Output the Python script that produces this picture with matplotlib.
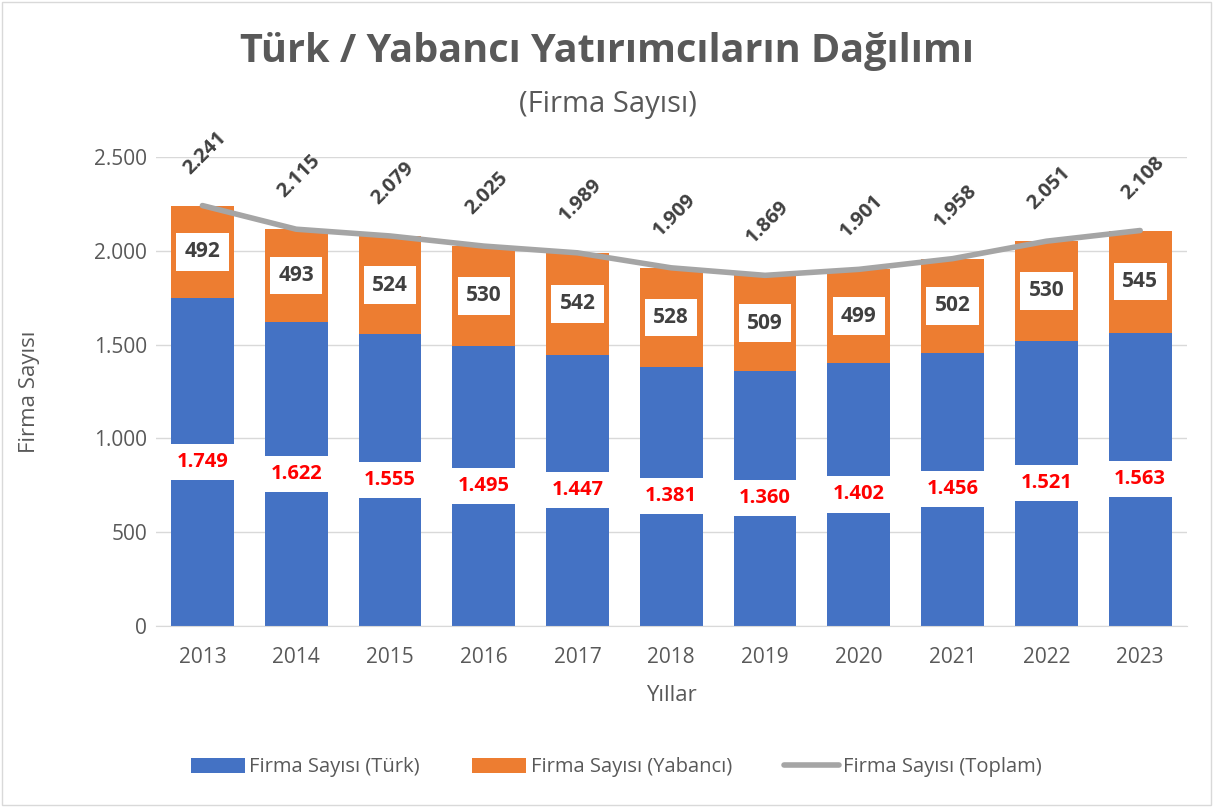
import matplotlib.pyplot as plt
from matplotlib.ticker import FuncFormatter, MultipleLocator
from matplotlib.patches import Rectangle
import numpy as np

plt.rcParams['font.family'] = ['Open Sans', 'DejaVu Sans']

years = ['2013', '2014', '2015', '2016', '2017', '2018', '2019', '2020', '2021', '2022', '2023']
turk = [1749, 1622, 1555, 1495, 1447, 1381, 1360, 1402, 1456, 1521, 1563]
yabanci = [492, 493, 524, 530, 542, 528, 509, 499, 502, 530, 545]
toplam = [2241, 2115, 2079, 2025, 1989, 1909, 1869, 1901, 1958, 2051, 2108]

blue = '#4472C4'
orange = '#ED7D31'
grey = '#A5A5A5'
txt = '#595959'


def tr_num(v):
    return f'{int(v):,}'.replace(',', '.')


fig = plt.figure(figsize=(12.15, 8.07), dpi=100)
ax = fig.add_axes([0.128, 0.2243, 0.849, 0.5812])

x = np.arange(len(years))
w = 0.67
b1 = ax.bar(x, turk, w, color=blue, label='Firma Sayısı (Türk)', zorder=2)
b2 = ax.bar(x, yabanci, w, bottom=turk, color=orange, label='Firma Sayısı (Yabancı)', zorder=2)
ln, = ax.plot(x, toplam, color=grey, lw=4, solid_capstyle='round', label='Firma Sayısı (Toplam)', zorder=3)

for i in range(len(years)):
    ax.text(x[i], turk[i] / 2, tr_num(turk[i]), ha='center', va='center',
            color='#FF0000', fontsize=14.5, fontweight='bold', zorder=4,
            bbox=dict(boxstyle='square,pad=0.4', fc='white', ec='none'))
    ax.text(x[i], turk[i] + yabanci[i] / 2, tr_num(yabanci[i]), ha='center', va='center',
            color='#404040', fontsize=15, fontweight='bold', zorder=4,
            bbox=dict(boxstyle='square,pad=0.4', fc='white', ec='none'))
    ax.annotate(tr_num(toplam[i]), (x[i], toplam[i]), xytext=(2, 38), textcoords='offset points',
                ha='center', va='center', rotation=45, color='#404040',
                fontsize=14.5, fontweight='bold', zorder=4, annotation_clip=False)

ax.set_xlim(-0.5, len(years) - 0.5)
ax.set_ylim(0, 2500)
ax.yaxis.set_major_locator(MultipleLocator(500))
ax.yaxis.set_major_formatter(FuncFormatter(lambda v, p: tr_num(v)))
ax.set_xticks(x)
ax.set_xticklabels(years)
ax.grid(axis='y', color='#D9D9D9', lw=1, zorder=0)
for s in ['top', 'right', 'left']:
    ax.spines[s].set_visible(False)
ax.spines['bottom'].set_color('#D9D9D9')
ax.tick_params(length=0, colors=txt, labelsize=15)
ax.tick_params(axis='x', pad=15)
ax.tick_params(axis='y', pad=6)
ax.set_ylabel('Firma Sayısı', color=txt, fontsize=16, va='center')
ax.set_xlabel('Yıllar', color=txt, fontsize=16, va='center')
ax.yaxis.set_label_coords(-0.122, 0.5)
ax.xaxis.set_label_coords(0.5, -0.148)

fig.text(0.5, 0.936, 'Türk / Yabancı Yatırımcıların Dağılımı', ha='center', va='center',
         fontsize=28.5, fontweight='bold', color=txt)
fig.text(0.5, 0.871, '(Firma Sayısı)', ha='center', va='center', fontsize=21, color=txt)

fig.legend([b1, b2, ln], [b1.get_label(), b2.get_label(), ln.get_label()],
           loc='center', bbox_to_anchor=(0.507, 0.049), ncol=3, frameon=False,
           fontsize=14.5, handlelength=2.7, handleheight=0.8, columnspacing=2.6,
           handletextpad=0.2, labelcolor=txt)

fig.patches.append(Rectangle((0.002, 0.003), 0.995, 0.994, transform=fig.transFigure,
                             fill=False, ec='#D9D9D9', lw=1))

fig.savefig('out.png', dpi=100)
